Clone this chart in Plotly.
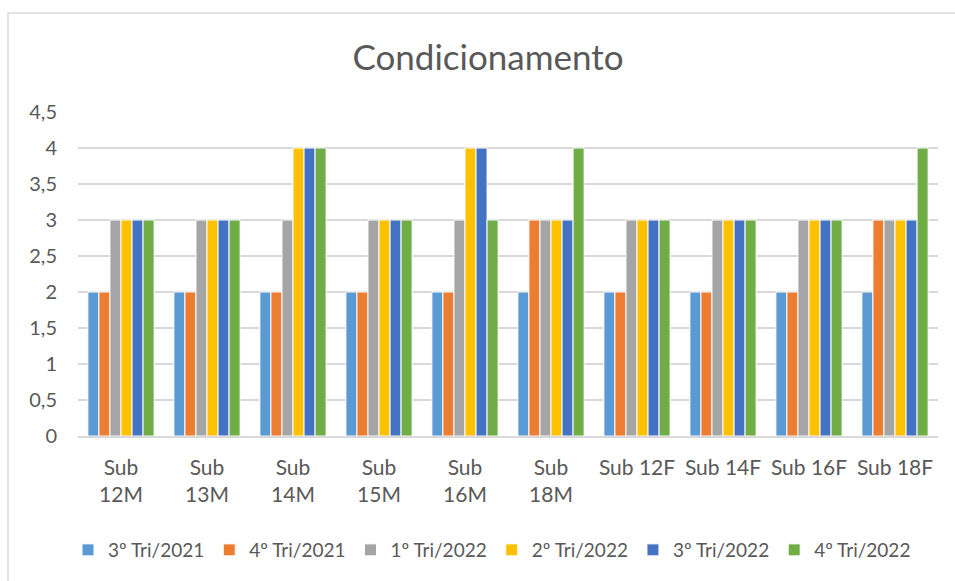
import plotly.graph_objects as go

categories = ["Sub 12M", "Sub 13M", "Sub 14M", "Sub 15M", "Sub 16M", "Sub 18M",
              "Sub 12F", "Sub 14F", "Sub 16F", "Sub 18F"]
tick_labels = ["Sub<br>12M", "Sub<br>13M", "Sub<br>14M", "Sub<br>15M", "Sub<br>16M", "Sub<br>18M",
               "Sub 12F", "Sub 14F", "Sub 16F", "Sub 18F"]
series_names = ["3º Tri/2021", "4º Tri/2021", "1º Tri/2022", "2º Tri/2022", "3º Tri/2022", "4º Tri/2022"]
tri3_2021 = [2, 2, 2, 2, 2, 2, 2, 2, 2, 2]
tri4_2021 = [2, 2, 2, 2, 2, 3, 2, 2, 2, 3]
tri1_2022 = [3, 3, 3, 3, 3, 3, 3, 3, 3, 3]
tri2_2022 = [3, 3, 4, 3, 4, 3, 3, 3, 3, 3]
tri3_2022 = [3, 3, 4, 3, 4, 3, 3, 3, 3, 3]
tri4_2022 = [3, 3, 4, 3, 3, 4, 3, 3, 3, 4]
y_ticks = [0, 0.5, 1, 1.5, 2, 2.5, 3, 3.5, 4, 4.5]
y_tick_labels = ["0", "0,5", "1", "1,5", "2", "2,5", "3", "3,5", "4", "4,5"]

colors = ["#5B9BD5", "#ED7D31", "#A5A5A5", "#FFC000", "#4472C4", "#70AD47"]
values = [tri3_2021, tri4_2021, tri1_2022, tri2_2022, tri3_2022, tri4_2022]

FONT = "Lato, 'Open Sans', sans-serif"
fig = go.Figure()
for name, vals, col in zip(series_names, values, colors):
    fig.add_trace(go.Bar(x=categories, y=vals, name=name,
                         marker=dict(color=col, line=dict(color="white", width=1))))

W, H = 955, 581
L, R, T, B = 78, 17, 112, 145
pw, ph = W - L - R, H - T - B

fig.update_layout(
    width=W, height=H,
    margin=dict(l=L, r=R, t=T, b=B),
    paper_bgcolor="white", plot_bgcolor="white",
    barmode="group", bargap=0.23, bargroupgap=0,
    font=dict(family=FONT, color="#595959", size=21),
    title=dict(text="Condicionamento", x=0.511, xanchor="center", y=1 - 58 / H, yanchor="middle",
               font=dict(size=35, color="#595959", family=FONT)),
    legend=dict(orientation="h", x=(492 - L) / pw, xanchor="center", y=-(550 - 436) / ph,
                yanchor="middle", font=dict(size=19, color="#595959"), itemwidth=30,
                traceorder="normal"),
    xaxis=dict(tickmode="array", tickvals=categories, ticktext=tick_labels,
               showline=True, linecolor="#D9D9D9", linewidth=1.5, ticks="",
               ticklabelstandoff=12,
               tickfont=dict(size=21, color="#595959"), showgrid=False),
    yaxis=dict(range=[0, 4.5], tickmode="array", tickvals=y_ticks, ticktext=y_tick_labels,
               showgrid=True, gridcolor="#D9D9D9", gridwidth=1.5, zeroline=False,
               showline=False, ticks="", ticklabelstandoff=20,
               tickfont=dict(size=20, color="#595959")),
    shapes=[dict(type="rect", xref="paper", yref="paper",
                 x0=(8 - L) / pw, x1=(W + 5 - L) / pw,
                 y0=-(H + 5 - (H - B)) / ph, y1=1 + (T - 13) / ph,
                 line=dict(color="#D9D9D9", width=1.5), fillcolor="rgba(0,0,0,0)", layer="below")],
)

fig.write_html("out.html", config={"displayModeBar": False},
               post_script="document.body.style.margin='0';document.body.style.overflow='hidden';")
